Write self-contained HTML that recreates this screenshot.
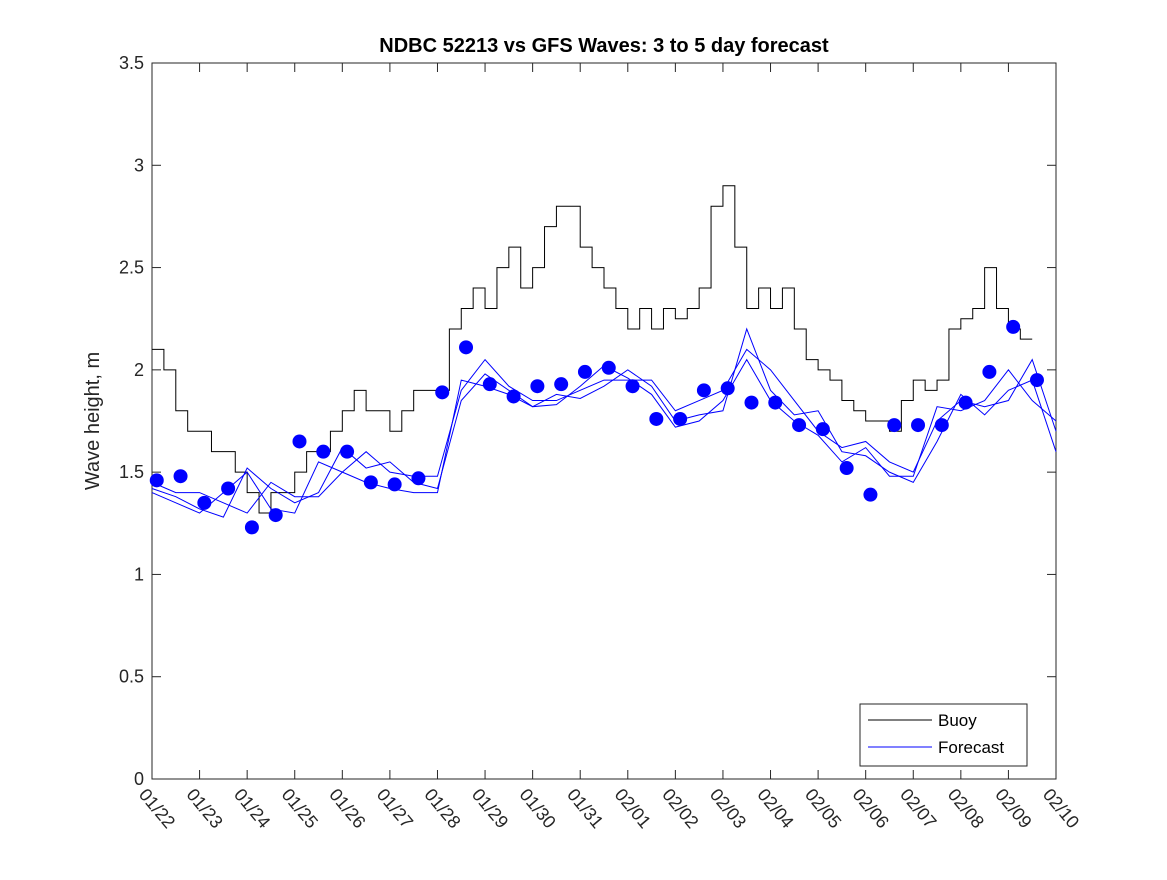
<!DOCTYPE html>
<html><head><meta charset="utf-8"><style>
body{margin:0;background:#fff;}
svg text{font-family:"Liberation Sans","DejaVu Sans",sans-serif;}
</style></head><body>
<svg id="chart" width="1167" height="875" viewBox="0 0 1167 875" xmlns="http://www.w3.org/2000/svg">
<rect x="0" y="0" width="1167" height="875" fill="#fff"/>
<text x="604" y="52" text-anchor="middle" font-size="20" font-weight="bold" fill="#000">NDBC 52213 vs GFS Waves: 3 to 5 day forecast</text>
<text x="0" y="0" transform="translate(99,421) rotate(-90)" text-anchor="middle" font-size="20" fill="#262626">Wave height, m</text>
<g id="axes"></g>
<g id="plot"></g>
<g>
<rect x="860" y="704" width="167" height="62" fill="#fff" stroke="#262626" stroke-width="1"/>
<line x1="868" y1="720" x2="932" y2="720" stroke="#000" stroke-width="1"/>
<text x="938" y="726" font-size="17" fill="#000">Buoy</text>
<line x1="868" y1="747" x2="932" y2="747" stroke="#0000ff" stroke-width="1"/>
<text x="938" y="753" font-size="17" fill="#000">Forecast</text>
</g>
</svg>
<script>
const xTickLabels=["01/22","01/23","01/24","01/25","01/26","01/27","01/28","01/29","01/30","01/31","02/01","02/02","02/03","02/04","02/05","02/06","02/07","02/08","02/09","02/10"];
const yTicks=[0,0.5,1,1.5,2,2.5,3,3.5];
const yTickLabels=["0","0.5","1","1.5","2","2.5","3","3.5"];
const buoyStep=0.25;
const buoy=[2.1,2.0,1.8,1.7, 1.7,1.6,1.6,1.5, 1.4,1.3,1.4,1.4, 1.5,1.6,1.6,1.7, 1.8,1.9,1.8,1.8, 1.7,1.8,1.9,1.9, 1.9,2.2,2.3,2.4, 2.3,2.5,2.6,2.4, 2.5,2.7,2.8,2.8, 2.6,2.5,2.4,2.3, 2.2,2.3,2.2,2.3, 2.25,2.3,2.4,2.8, 2.9,2.6,2.3,2.4, 2.3,2.4,2.2,2.05, 2.0,1.95,1.85,1.8, 1.75,1.75,1.7,1.85, 1.95,1.9,1.95,2.2, 2.25,2.3,2.5,2.3, 2.2,2.15];
const fcStep=0.5;
const forecastA=[1.45,1.40,1.40,1.35,1.30,1.45,1.38,1.38,1.50,1.60,1.50,1.48,1.48,1.90,2.05,1.92,1.85,1.85,1.90,1.95,1.95,1.95,1.80,1.85,1.90,2.10,2.00,1.85,1.70,1.62,1.65,1.55,1.50,1.75,1.85,1.82,1.85,2.05,1.70];
const forecastB=[1.42,1.38,1.32,1.28,1.52,1.42,1.35,1.40,1.62,1.52,1.55,1.45,1.42,1.85,1.98,1.90,1.82,1.88,1.86,1.92,2.00,1.92,1.75,1.78,1.80,2.20,1.90,1.78,1.80,1.60,1.58,1.50,1.45,1.65,1.88,1.78,1.90,1.95,1.60];
const forecastC=[1.40,1.35,1.30,1.40,1.50,1.32,1.30,1.55,1.50,1.45,1.42,1.40,1.40,1.95,1.92,1.88,1.82,1.83,1.92,2.02,1.96,1.88,1.72,1.75,1.85,2.05,1.85,1.75,1.68,1.55,1.62,1.48,1.48,1.82,1.80,1.85,2.00,1.85,1.75];
const dotStart=0.1;
const dots=[1.46,1.48,1.35,1.42,1.23,1.29,1.65,1.60,1.60,1.45,1.44,1.47,1.89,2.11,1.93,1.87,1.92,1.93,1.99,2.01,1.92,1.76,1.76,1.90,1.91,1.84,1.84,1.73,1.71,1.52,1.39,1.73,1.73,1.73,1.84,1.99,2.21,1.95];

const L=152,R=1056,T=63,B=779,NS="http://www.w3.org/2000/svg";
const xs=d=>L+(R-L)*d/19;
const ys=v=>B-(B-T)*v/3.5;
function mk(tag,attrs,parent){const e=document.createElementNS(NS,tag);for(const k in attrs)e.setAttribute(k,attrs[k]);parent.appendChild(e);return e;}
const axes=document.getElementById('axes'),plot=document.getElementById('plot');
const frame=mk('rect',{x:L,y:T,width:R-L,height:B-T,fill:'none',stroke:'#262626','stroke-width':1},axes);


xTickLabels.forEach((lab,i)=>{const x=xs(i);
 mk('line',{x1:x,y1:B,x2:x,y2:B-9,stroke:'#262626'},axes);
 mk('line',{x1:x,y1:T,x2:x,y2:T+9,stroke:'#262626'},axes);
 const t=mk('text',{x:0,y:0,transform:`translate(${x-14},${B+16}) rotate(50)`,'font-size':18,fill:'#262626'},axes);
 t.textContent=lab;
 
 
});
yTicks.forEach((v,i)=>{const y=ys(v);
 mk('line',{x1:L,y1:y,x2:L+9,y2:y,stroke:'#262626'},axes);
 mk('line',{x1:R,y1:y,x2:R-9,y2:y,stroke:'#262626'},axes);
 const t=mk('text',{x:L-8,y:y+6,'text-anchor':'end','font-size':18,fill:'#262626'},axes);
 t.textContent=yTickLabels[i];
 
 
});
function stepPath(arr,t0,step){let d='';arr.forEach((v,i)=>{const x0=xs(t0+i*step),x1=xs(t0+(i+1)*step),y=ys(v);d+=(i?'L':'M')+x0+','+y+'L'+x1+','+y;});return d;}
const b1=mk('path',{d:stepPath(buoy,0,buoyStep),fill:'none',stroke:'#000','stroke-width':1},plot);


[forecastA,forecastB,forecastC].forEach((s,k)=>{
 const d=s.map((v,i)=>(i?'L':'M')+xs(i*fcStep)+','+ys(v)).join('');
 const p=mk('path',{d:d,fill:'none',stroke:'#0000ff','stroke-width':1},plot);
 
 
});
dots.forEach((v,i)=>{
 const c=mk('circle',{cx:xs(dotStart+i*0.5),cy:ys(v),r:7,fill:'#0000ff'},plot);
 
 
});
</script>
</body></html>
